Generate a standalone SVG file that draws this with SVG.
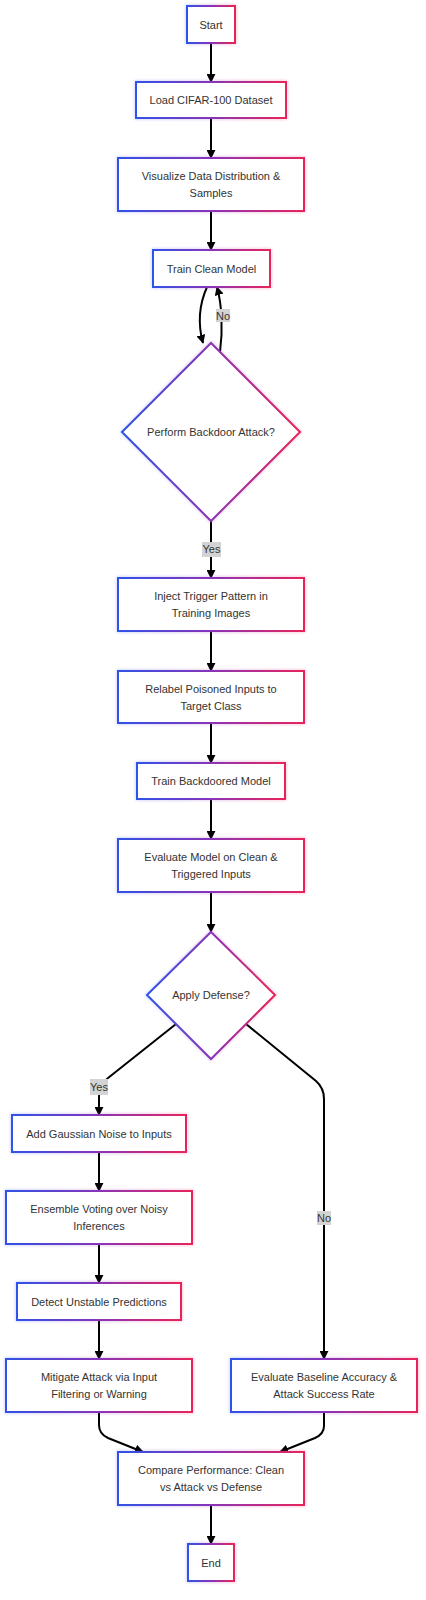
<svg xmlns="http://www.w3.org/2000/svg" width="426" height="1600" viewBox="0 0 426 1600">
<defs>
<linearGradient id="g" x1="0" y1="0" x2="1" y2="0">
<stop offset="0" stop-color="#2f52e8"/>
<stop offset="0.5" stop-color="#8a34b8"/>
<stop offset="1" stop-color="#e8245a"/>
</linearGradient>
<filter id="glow" x="-10%" y="-10%" width="120%" height="120%">
<feGaussianBlur in="SourceGraphic" stdDeviation="1.6" result="b"/>
<feComponentTransfer in="b" result="bb"><feFuncA type="linear" slope="0.45"/></feComponentTransfer>
<feMerge><feMergeNode in="bb"/><feMergeNode in="SourceGraphic"/></feMerge>
</filter>
<marker id="arr" viewBox="0 0 10 10" refX="9" refY="5" markerWidth="9" markerHeight="9" markerUnits="userSpaceOnUse" orient="auto">
<path d="M0,0 L10,5 L0,10 z" fill="#000"/>
</marker>
</defs>
<style>
.n{fill:#fff;stroke:url(#g);stroke-width:2;filter:url(#glow)}
.t{font-family:"Liberation Sans",Arial,sans-serif;font-size:11px;fill:#333;text-anchor:middle}
.e{fill:none;stroke:#000;stroke-width:2;marker-end:url(#arr)}
.lb{fill:#d3d3d3}
</style>
<rect width="426" height="1600" fill="#fff"/>
<g id="edges">
<path class="e" d="M211,43 L211,82"/>
<path class="e" d="M211,118 L211,158"/>
<path class="e" d="M211,211 L211,250"/>
<path class="e" d="M207,287 C199,305 198,325 203,343"/>
<path class="e" d="M220,352 C223,330 222,305 217,287"/>
<path class="e" d="M211,521 L211,578"/>
<path class="e" d="M211,631 L211,671"/>
<path class="e" d="M211,723 L211,763"/>
<path class="e" d="M211,799 L211,839"/>
<path class="e" d="M211,892 L211,932"/>
<path class="e" d="M176,1024 L108,1078 Q99,1085 99,1096 L99,1115"/>
<path class="e" d="M246,1024 L316,1081 Q324,1088 324,1099 L324,1359"/>
<path class="e" d="M99,1152 L99,1191"/>
<path class="e" d="M99,1244 L99,1283"/>
<path class="e" d="M99,1320 L99,1359"/>
<path class="e" d="M99,1412 L99,1425 Q99,1434 108,1438 L143,1452"/>
<path class="e" d="M324,1412 L324,1426 Q324,1434 315,1438 L280,1452"/>
<path class="e" d="M211,1505 L211,1544"/>
</g>
<g id="edge-labels">
<rect class="lb" x="216" y="309" width="14" height="13"/>
<text class="t" x="223" y="319.5">No</text>
<rect class="lb" x="202" y="542" width="19" height="15"/>
<text class="t" x="211.5" y="553">Yes</text>
<rect class="lb" x="90" y="1079" width="18" height="16"/>
<text class="t" x="99" y="1091">Yes</text>
<rect class="lb" x="317" y="1211" width="14" height="14"/>
<text class="t" x="324" y="1222">No</text>
</g>
<g id="start"><rect class="n" x="187" y="6" width="48" height="37"/><text class="t" x="211" y="28.5">Start</text></g>
<g id="load"><rect class="n" x="136" y="82" width="150" height="36"/><text class="t" x="211" y="104">Load CIFAR-100 Dataset</text></g>
<g id="visualize"><rect class="n" x="118" y="158" width="186" height="53"/><text class="t" x="211" y="180">Visualize Data Distribution &amp;</text><text class="t" x="211" y="197">Samples</text></g>
<g id="trainClean"><rect class="n" x="153" y="250" width="117" height="37"/><text class="t" x="211.5" y="272.5">Train Clean Model</text></g>
<g id="attack"><polygon class="n" points="211,343 300,432 211,521 122,432"/><text class="t" x="211" y="436">Perform Backdoor Attack?</text></g>
<g id="inject"><rect class="n" x="118" y="578" width="186" height="53"/><text class="t" x="211" y="600">Inject Trigger Pattern in</text><text class="t" x="211" y="617">Training Images</text></g>
<g id="relabel"><rect class="n" x="118" y="671" width="186" height="52"/><text class="t" x="211" y="692.5">Relabel Poisoned Inputs to</text><text class="t" x="211" y="709.5">Target Class</text></g>
<g id="trainBackdoored"><rect class="n" x="137" y="763" width="148" height="36"/><text class="t" x="211" y="785">Train Backdoored Model</text></g>
<g id="evaluate"><rect class="n" x="118" y="839" width="186" height="53"/><text class="t" x="211" y="861">Evaluate Model on Clean &amp;</text><text class="t" x="211" y="877.5">Triggered Inputs</text></g>
<g id="defense"><polygon class="n" points="211,932 275,995 211,1059 147,995"/><text class="t" x="211" y="999">Apply Defense?</text></g>
<g id="addNoise"><rect class="n" x="12" y="1115" width="174" height="37"/><text class="t" x="99" y="1137.5">Add Gaussian Noise to Inputs</text></g>
<g id="ensemble"><rect class="n" x="6" y="1191" width="186" height="53"/><text class="t" x="99" y="1213">Ensemble Voting over Noisy</text><text class="t" x="99" y="1230">Inferences</text></g>
<g id="detect"><rect class="n" x="17" y="1283" width="164" height="37"/><text class="t" x="99" y="1305.5">Detect Unstable Predictions</text></g>
<g id="mitigate"><rect class="n" x="6" y="1359" width="186" height="53"/><text class="t" x="99" y="1381">Mitigate Attack via Input</text><text class="t" x="99" y="1398">Filtering or Warning</text></g>
<g id="baseline"><rect class="n" x="231" y="1359" width="186" height="53"/><text class="t" x="324" y="1381">Evaluate Baseline Accuracy &amp;</text><text class="t" x="324" y="1398">Attack Success Rate</text></g>
<g id="compare"><rect class="n" x="118" y="1452" width="186" height="53"/><text class="t" x="211" y="1474">Compare Performance: Clean</text><text class="t" x="211" y="1491">vs Attack vs Defense</text></g>
<g id="end"><rect class="n" x="188" y="1544" width="46" height="37"/><text class="t" x="211" y="1566.5">End</text></g>
</svg>
